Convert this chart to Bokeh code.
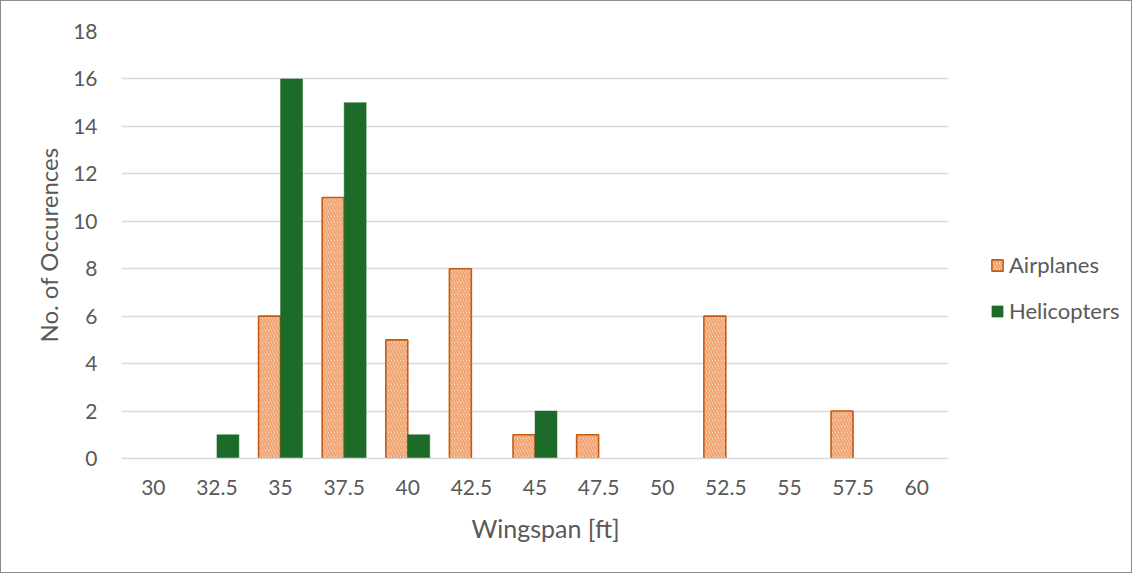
from bokeh.plotting import figure
from bokeh.models import (ColumnDataSource, Range1d, Legend, LegendItem,
                          SingleIntervalTicker, FixedTicker, Title)
from bokeh.transform import dodge
from bokeh.embed import file_html
from bokeh.resources import INLINE

categories = ["30", "32.5", "35", "37.5", "40", "42.5", "45", "47.5", "50", "52.5", "55", "57.5", "60"]
airplanes = [0, 0, 6, 11, 5, 8, 1, 1, 0, 6, 0, 2, 0]
helicopters = [0, 1, 16, 15, 1, 0, 2, 0, 0, 0, 0, 0, 0]

FONT = "Lato"
TXT = "#595959"

idx = list(range(len(categories)))
src = ColumnDataSource(dict(x=idx, cat=categories, air=airplanes, heli=helicopters,
                            air_la=[1.0 if v > 0 else 0.0 for v in airplanes],
                            heli_la=[1.0 if v > 0 else 0.0 for v in helicopters]))

W, H = 1132, 573
ML, MR, MT, MB = 120, 5, 30, 116
plot_w = 827                      # width that the category axis occupies
frame_w = W - ML - MR
n = len(categories)
x_start = -0.5
x_end = x_start + n * frame_w / plot_w

p = figure(x_range=Range1d(x_start, x_end), y_range=Range1d(0, 18),
           width=W, height=H, output_backend="svg", toolbar_location=None,
           min_border_left=ML, min_border_right=MR, min_border_top=MT, min_border_bottom=MB)
p.styles = {"border": "1.5px solid #8c8c8c", "box-sizing": "border-box"}
p.outline_line_color = None
p.background_fill_color = "white"
p.border_fill_color = "white"

bw = 0.345
r_air = p.vbar(x=dodge("x", -0.173), top="air", width=bw, source=src,
               fill_color="white", line_color="#C55A11", line_width=1.6, line_alpha="air_la",
               hatch_pattern="left_diagonal_line", hatch_color="#F2A470",
               hatch_weight=2.4, hatch_scale=6, hatch_alpha="air_la")
r_heli = p.vbar(x=dodge("x", 0.173), top="heli", width=bw, source=src,
                fill_color="#1D6B28", line_color="#1D6B28", line_width=0.5,
                line_alpha="heli_la")

# y axis
p.yaxis.ticker = SingleIntervalTicker(interval=2)
p.yaxis.axis_line_color = None
p.yaxis.major_tick_line_color = None
p.yaxis.minor_tick_line_color = None
p.yaxis.major_label_standoff = 18
p.yaxis.axis_label = "No. of Occurences"
p.yaxis.axis_label_standoff = 7
p.yaxis.axis_label_text_font = FONT
p.yaxis.axis_label_text_font_size = "24px"
p.yaxis.axis_label_text_font_style = "normal"
p.yaxis.axis_label_text_color = TXT
p.ygrid.grid_line_color = "#d9d9d9"
p.ygrid.grid_line_width = 1.3
p.ygrid.ticker = SingleIntervalTicker(interval=2)
p.ygrid.cross_bounds = (x_start, x_start + n)

# x axis
p.xaxis.ticker = FixedTicker(ticks=idx)
p.xaxis.major_label_overrides = {i: c for i, c in zip(idx, categories)}
p.xaxis.bounds = (x_start, x_start + n)
p.xaxis.axis_line_color = "#d9d9d9"
p.xaxis.axis_line_width = 1.3
p.xaxis.major_tick_line_color = None
p.xaxis.minor_tick_line_color = None
p.xaxis.major_label_standoff = 15
p.xgrid.grid_line_color = None

for ax in (p.xaxis, p.yaxis):
    ax.major_label_text_font = FONT
    ax.major_label_text_font_size = "21px"
    ax.major_label_text_color = TXT

# x-axis title, centred under the category area
xtitle = Title(text="Wingspan [ft]", align="left", offset=350, standoff=29,
               vertical_align="middle", text_font=FONT, text_font_size="25px",
               text_font_style="normal", text_color=TXT)
p.add_layout(xtitle, "below")

legend = Legend(items=[LegendItem(label="Airplanes", renderers=[r_air], index=2),
                       LegendItem(label="Helicopters", renderers=[r_heli], index=2)],
                location=(plot_w + 42, 134), orientation="vertical")
legend.border_line_color = None
legend.background_fill_alpha = 0
legend.glyph_width = 14
legend.glyph_height = 14
legend.label_standoff = 5
legend.label_text_font = FONT
legend.label_text_font_size = "22px"
legend.label_text_color = TXT
legend.spacing = 19
legend.padding = 0
legend.margin = 0
p.add_layout(legend, "center")

open("out.html", "w").write(file_html(p, INLINE))
